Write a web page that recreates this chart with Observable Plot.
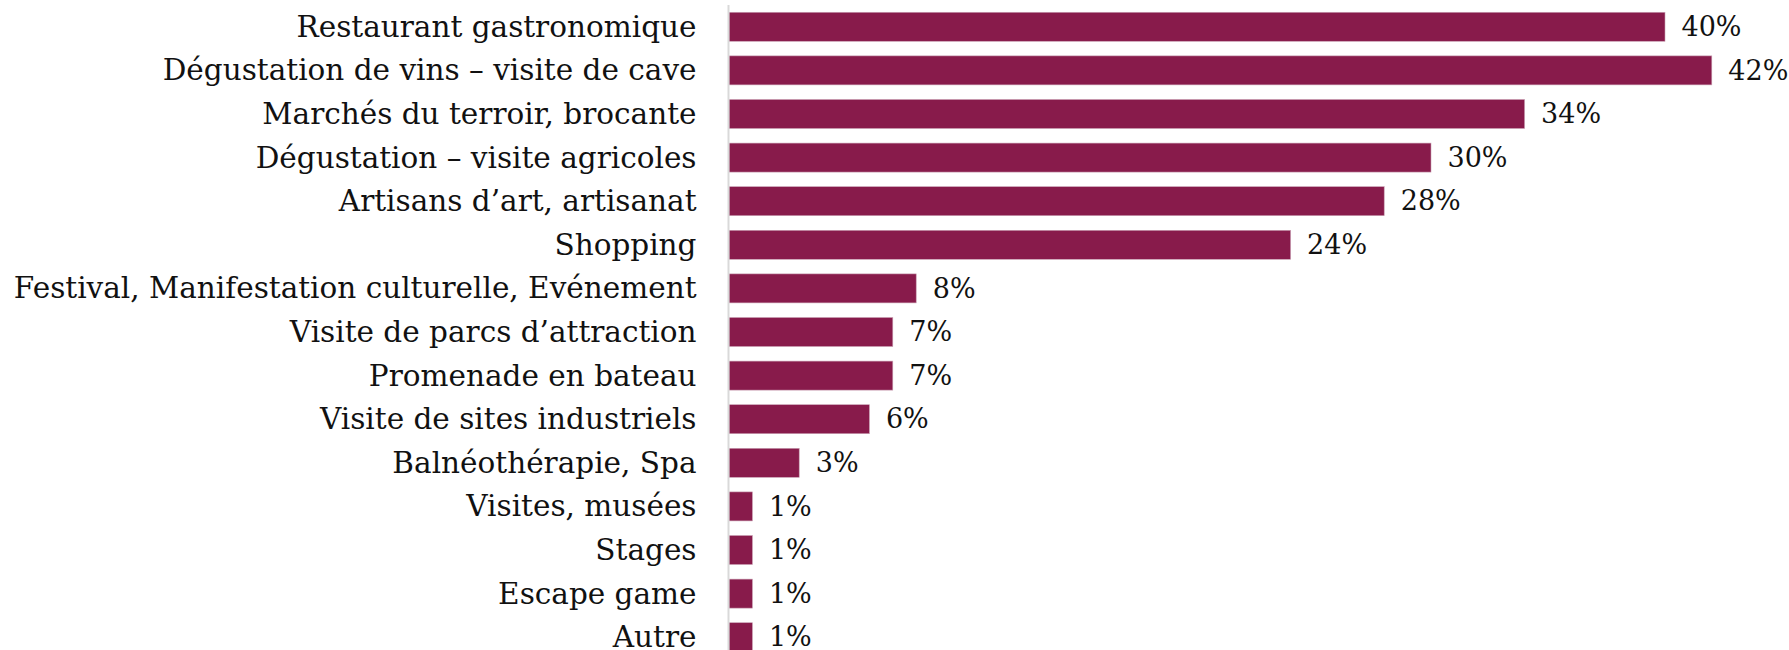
<!DOCTYPE html>
<html>
<head>
<meta charset="utf-8">
<script src="https://cdn.jsdelivr.net/npm/d3@7"></script>
<script src="https://cdn.jsdelivr.net/npm/@observablehq/plot@0.6"></script>
<style>
  html, body { margin: 0; padding: 0; background: #fff; overflow: hidden; }
</style>
</head>
<body>
<div id="chart"></div>
<script>
const categories = [
  "Restaurant gastronomique",
  "Dégustation de vins – visite de cave",
  "Marchés du terroir, brocante",
  "Dégustation – visite agricoles",
  "Artisans d’art, artisanat",
  "Shopping",
  "Festival, Manifestation culturelle, Evénement",
  "Visite de parcs d’attraction",
  "Promenade en bateau",
  "Visite de sites industriels",
  "Balnéothérapie, Spa",
  "Visites, musées",
  "Stages",
  "Escape game",
  "Autre"
];
const values = [40, 42, 34, 30, 28, 24, 8, 7, 7, 6, 3, 1, 1, 1, 1];

const data = categories.map((c, i) => ({label: c, value: values[i]}));
const FONT = "'DejaVu Serif', serif";

const chart = Plot.plot({
  width: 1789,
  height: 650,
  marginLeft: 729,
  marginRight: 7,
  marginTop: 5,
  marginBottom: 0,
  style: {fontFamily: FONT, fontSize: "29px", color: "#111", background: "#fff", overflow: "visible"},
  x: {domain: [0, 45], axis: null, round: false},
  y: {domain: categories, range: [5, 659], paddingInner: 0.335, paddingOuter: 0.167, round: false, label: null},
  marks: [
    Plot.barX(data, {x: "value", y: "label", fill: "#881b4b", stroke: "#c9a0b3", strokeWidth: 0.6}),
    Plot.ruleX([0], {stroke: "#d9d9d9", strokeWidth: 2, dx: -1}),
    Plot.text(data, {x: "value", y: "label", text: d => `${d.value}%`, dx: 16, textAnchor: "start", fontSize: 27, fill: "#111"}),
    Plot.axisY({tickSize: 0, tickPadding: 33, fontSize: 29.5, label: null, fill: "#111"})
  ]
});
document.getElementById("chart").appendChild(chart);
</script>
</body>
</html>
